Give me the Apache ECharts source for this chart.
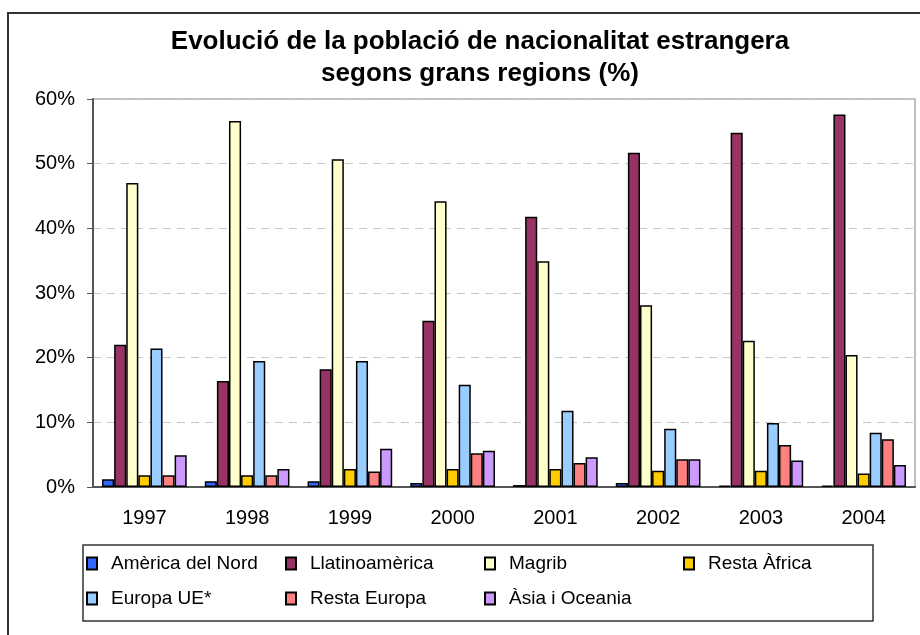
<!DOCTYPE html>
<html>
<head>
<meta charset="utf-8">
<script src="https://cdn.jsdelivr.net/npm/echarts@6/dist/echarts.min.js"></script>
<style>
  html, body { margin: 0; padding: 0; background: #fff; }
  #chart { width: 920px; height: 635px; }
</style>
</head>
<body>
<div id="chart"></div>
<script>
var years = ["1997", "1998", "1999", "2000", "2001", "2002", "2003", "2004"];
var americaNord = [1.2, 0.9, 0.9, 0.6, 0.3, 0.6, 0.2, 0.2];
var llatinoamerica = [22.0, 16.4, 18.2, 25.7, 41.8, 51.7, 54.8, 57.6];
var magrib = [47.0, 56.6, 50.7, 44.2, 34.9, 28.1, 22.6, 20.4];
var restaAfrica = [1.8, 1.8, 2.8, 2.8, 2.8, 2.5, 2.5, 2.1];
var europaUE = [21.4, 19.5, 19.5, 15.8, 11.8, 9.0, 9.9, 8.4];
var restaEuropa = [1.8, 1.8, 2.4, 5.2, 3.7, 4.3, 6.5, 7.4];
var asiaOceania = [4.9, 2.8, 5.9, 5.6, 4.6, 4.3, 4.1, 3.4];

var seriesNames = ["Amèrica del Nord", "Llatinoamèrica", "Magrib", "Resta Àfrica",
  "Europa UE*", "Resta Europa", "Àsia i Oceania"];
var seriesData = [americaNord, llatinoamerica, magrib, restaAfrica, europaUE, restaEuropa, asiaOceania];
var colors = ["#3366FF", "#993366", "#FFFFCC", "#FFCC00", "#99CCFF", "#FF8080", "#CC99FF"];

var font = "'Liberation Sans', Arial, sans-serif";
var myChart = echarts.init(document.getElementById("chart"));

var series = [];
for (var i = 0; i < seriesNames.length; i++) {
  series.push({
    name: seriesNames[i],
    type: "bar",
    data: seriesData[i],
    barGap: "0%",
    barCategoryGap: "17.6%",
    itemStyle: {
      color: colors[i],
      borderColor: "#000",
      borderWidth: 1.5,
    },
  });
}

var option = {
  animation: false,
  backgroundColor: "#fff",
  title: {
    text: "Evolució de la població de nacionalitat estrangera\nsegons grans regions (%)",
    left: 475,
    top: 21,
    textAlign: "center",
    textStyle: {
      fontFamily: font,
      fontWeight: "bold",
      fontSize: 26,
      lineHeight: 32,
      color: "#000",
    },
  },
  graphic: [
    {
      type: "rect",
      shape: { x: 8, y: 13, width: 1000, height: 1000 },
      style: { fill: null, stroke: "#333", lineWidth: 2 },
      silent: true,
    },
    {
      type: "rect",
      shape: { x: 83, y: 545, width: 790, height: 76 },
      style: { fill: null, stroke: "#333", lineWidth: 1.5 },
      silent: true,
    },
  ],
  legend: {
    left: 86,
    top: 546,
    width: 800,
    padding: 0,
    itemGap: 0,
    itemWidth: 10,
    itemHeight: 12,
    icon: "rect",
    textStyle: {
      fontFamily: font,
      fontSize: 19,
      color: "#000",
      width: 174,
      lineHeight: 35,
      height: 35,
      padding: [0, 0, 0, 9],
    },
    data: seriesNames,
  },
  grid: {
    left: 93,
    right: 5,
    top: 99,
    bottom: 148,
    show: true,
    borderColor: "#c0c0c0",
    borderWidth: 2,
    backgroundColor: "#fff",
  },
  xAxis: {
    type: "category",
    data: years,
    axisLine: { lineStyle: { color: "#555", width: 2 } },
    axisTick: { length: 6, lineStyle: { color: "#555" } },
    axisLabel: {
      fontFamily: font,
      fontSize: 20,
      color: "#000",
      margin: 21,
    },
  },
  yAxis: {
    type: "value",
    min: 0,
    max: 60,
    interval: 10,
    axisLine: { show: true, lineStyle: { color: "#555", width: 2 } },
    axisTick: { show: true, length: 6, lineStyle: { color: "#555" } },
    axisLabel: {
      formatter: "{value}%",
      fontFamily: font,
      fontSize: 20,
      color: "#000",
      margin: 18,
    },
    splitLine: {
      lineStyle: { color: "#c8c8c8", type: [8, 6], width: 1 },
    },
  },
  series: series,
};
myChart.setOption(option);
</script>
</body>
</html>
